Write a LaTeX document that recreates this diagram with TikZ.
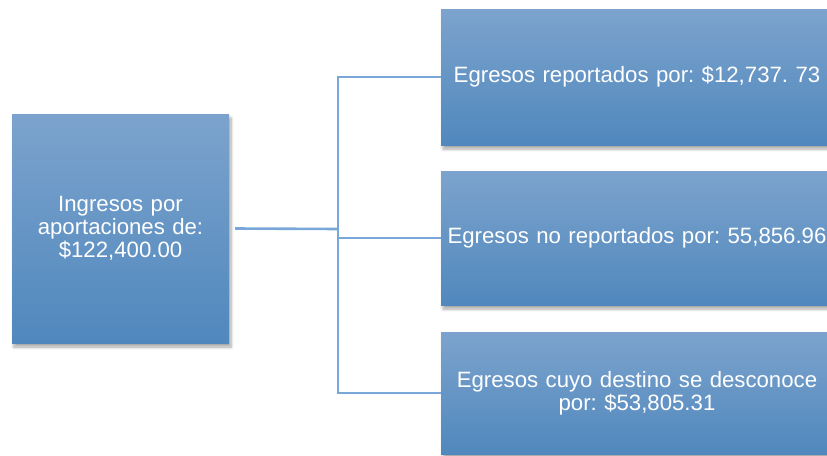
\documentclass[tikz,border=0pt]{standalone}
\usepackage{fontspec}
\setmainfont{Liberation Sans}
\frenchspacing
\usetikzlibrary{shadows.blur}
\definecolor{boxtop}{RGB}{124,163,205}
\definecolor{boxbot}{RGB}{80,136,189}
\definecolor{conn}{RGB}{122,167,217}
\tikzset{
  box/.style={rectangle, inner sep=0pt, top color=boxtop, bottom color=boxbot,
    draw=none, text=white, align=center,
    font=\fontsize{22.2}{22.8}\selectfont\frenchspacing,
    blur shadow={shadow xshift=2pt, shadow yshift=-4pt, shadow blur steps=6, shadow opacity=35, shadow blur radius=3pt}},
  link/.style={draw=conn, line width=2.6pt},
}
\begin{document}
\begin{tikzpicture}[x=1pt,y=-1pt]
\useasboundingbox (0,0) rectangle (827,455);
\clip (0,0) rectangle (827,455);
\node[box, minimum width=217pt, minimum height=229pt, text width=210pt] (in) at (120.5,228.5)
  {Ingresos por\\aportaciones de:\\\$122,400.00};
\node[box, minimum width=392pt, minimum height=136pt, text width=392pt] (o1) at (637,77)
  {Egresos reportados por: \$12,737. 73};
\node[box, minimum width=392pt, minimum height=134pt, text width=392pt] (o2) at (637,238)
  {Egresos no reportados por: 55,856.96};
\node[box, minimum width=392pt, minimum height=122pt, text width=392pt] (o3) at (637,393)
  {Egresos cuyo destino se desconoce\\por: \$53,805.31};
\coordinate (j) at (338,229);
\draw[link] ([xshift=6pt]in.east) -- (j);
\draw[link] ([yshift=-1.3pt]j) |- (o1.west);
\draw[link] (j) |- (o2.west);
\draw[link] (j) |- (o3.west);
\end{tikzpicture}
\end{document}
